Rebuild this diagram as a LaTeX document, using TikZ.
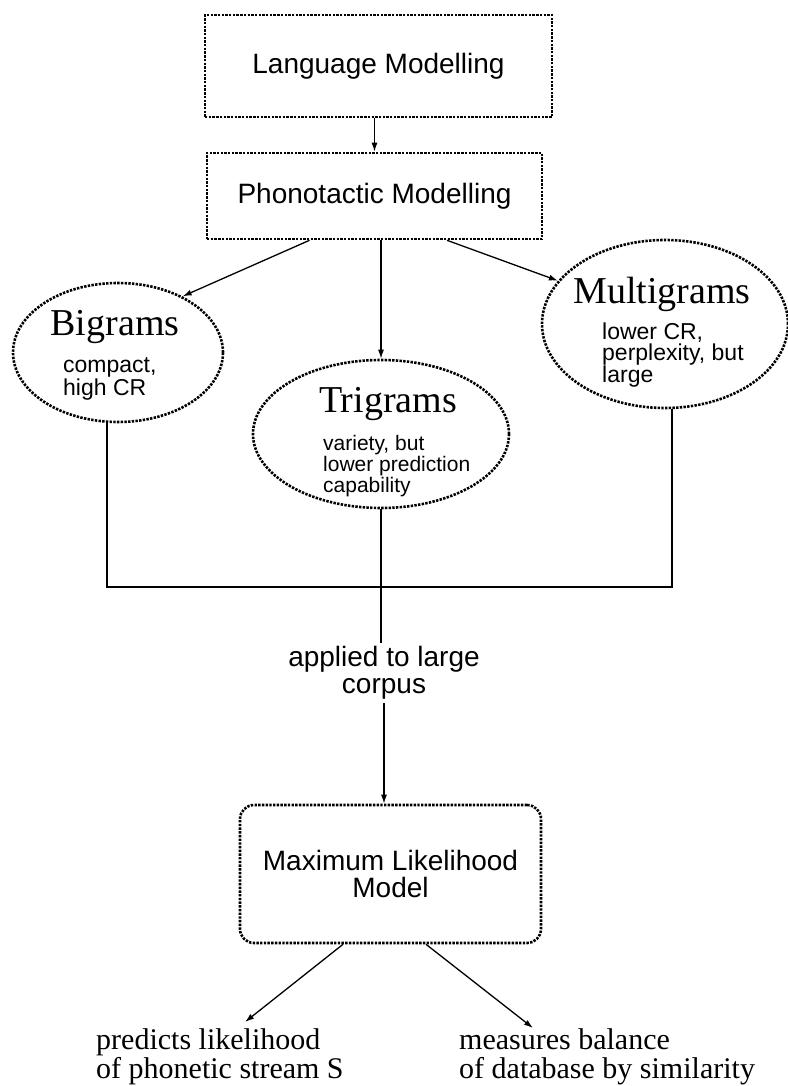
\documentclass[tikz,border=0pt]{standalone}
\usepackage{fontspec}
\setmainfont{Liberation Serif}
\setsansfont{Liberation Sans}
\usetikzlibrary{shapes.geometric,arrows.meta,calc}
\begin{document}
\begin{tikzpicture}[x=1pt,y=-1pt,
  dotline/.style={draw, line width=2.6pt, dash pattern=on 2.4pt off 1.3pt},
  dotbox/.style={dotline, rectangle, inner sep=0pt},
  dotell/.style={dotline, ellipse, inner sep=0pt},
  conn/.style={line width=1.3pt},
  arr/.style={conn, -{Latex[length=9pt,width=6pt]}},
  lbl/.style={font=\sffamily\fontsize{28}{27}\selectfont, align=center},
  ttl/.style={font=\fontsize{38}{38}\selectfont, inner sep=0pt, anchor=base},
  smallA/.style={font=\sffamily\fontsize{23}{20}\selectfont, inner sep=0pt, anchor=base west, align=left},
  smallB/.style={font=\sffamily\fontsize{23}{21.5}\selectfont, inner sep=0pt, anchor=base west, align=left},
  smallC/.style={font=\sffamily\fontsize{21}{18.5}\selectfont, inner sep=0pt, anchor=base west, align=left},
  outtxt/.style={font=\fontsize{30}{29}\selectfont, inner sep=0pt, anchor=base west, align=left}
]
\useasboundingbox (0,0) rectangle (787,1086);

% boxes
\node[dotbox, lbl, minimum width=347, minimum height=102] (lang) at (378.5,66) {Language Modelling};
\node[dotbox, lbl, minimum width=335, minimum height=86] (phono) at (374.5,196) {Phonotactic Modelling};

% ellipses
\node[dotell, minimum width=210, minimum height=139] (bigrams) at (118,352.5) {};
\node[ttl] (bigt) at (115,335) {Bigrams};
\node[smallA] (bigs) at (63,395) {compact,\\high CR};

\node[dotell, minimum width=256, minimum height=148] (tri) at (381,434) {};
\node[ttl] (trit) at (388,412) {Trigrams};
\node[smallC] (tris) at (323,492) {variety, but\\lower prediction\\capability};

\node[dotell, minimum width=246, minimum height=168] (multi) at (665,324) {};
\node[ttl] (mult) at (662,303) {Multigrams};
\node[smallB] (muls) at (602,382) {lower CR,\\perplexity, but\\large};

% label and ML box
\node[lbl, inner sep=3pt] (applied) at (384,673) {applied to large\\corpus};
\node[dotbox, lbl, rounded corners=14pt, minimum width=301, minimum height=138] (ml) at (390.5,874) {Maximum Likelihood\\Model};

% output texts
\node[outtxt] (pred) at (96,1078) {predicts likelihood\\of phonetic stream S};
\node[outtxt] (meas) at (459,1078) {measures balance\\of database by similarity};

% coordinates
\coordinate (hl) at (107,587);
\coordinate (hr) at (672,587);
\coordinate (pl) at (245,1022);
\coordinate (pr) at (533,1028);

% connectors
\draw[arr] (lang.south -| phono.north) -- (phono.north);
\draw[arr] ([xshift=-65pt]phono.south) -- (bigrams.41);
\draw[arr] (tri.north |- phono.south) -- (tri.north);
\draw[arr] ([xshift=72.5pt]phono.south) -- (multi.158);

\draw[conn] (hl |- bigrams.south) -- (hl) -- (hr) -- (hr |- multi.south);
\draw[conn] (tri.south) -- (tri.south |- applied.north);
\draw[arr] (applied.south) -- (applied.south |- ml.north);

\draw[arr] ([xshift=-47.5pt]ml.south) -- (pl);
\draw[arr] ([xshift=35.5pt]ml.south) -- (pr);
\end{tikzpicture}
\end{document}
